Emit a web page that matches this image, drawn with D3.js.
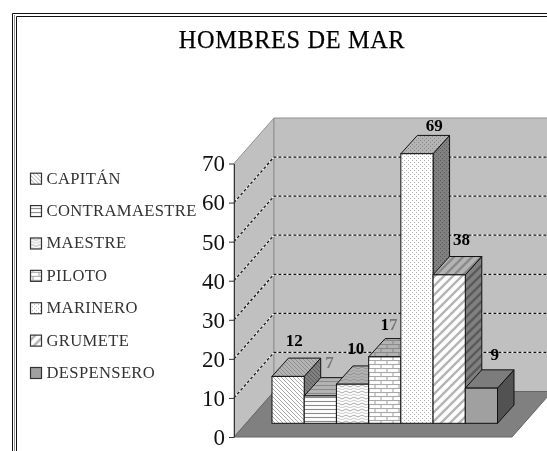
<!DOCTYPE html>
<html><head><meta charset="utf-8">
<script src="https://cdn.jsdelivr.net/npm/d3@7"></script>
<style>html,body{margin:0;padding:0;background:#fff}svg{display:block;filter:blur(.4px)}text{font-family:"Liberation Serif",serif}</style>
</head><body><div id="chart"></div>
<script>
const categories=["CAPITÁN","CONTRAMAESTRE","MAESTRE","PILOTO","MARINERO","GRUMETE","DESPENSERO"];
const values=[12,7,10,17,69,38,9];
const yTicks=[0,10,20,30,40,50,60,70];
const patternNames=["diag","hlines","waves","bricks","dots","wide","solid"];
const labelNudgeX=[-2,1,-5,-4,9,4,5];
const labelNudgeY=[-12,-10,-12,-9,-4,-12,-10];

const W=547,H=451;
const svg=d3.select("#chart").append("svg").attr("width",W).attr("height",H);
const defs=svg.append("defs");
const dx=40,dy=45.5,bdx=16.5,bdy=18.3;
const y=d3.scaleLinear().domain([0,70]).range([437,163.5]);
const hFront=v=>y(0)-y(v);
const baseY=423.3;
const x=d3.scaleBand().domain(categories).range([272,497.5]).padding(0);

function addPattern(name,shade,bg,fg){
  const id=`${name}-${shade}`;
  const p=defs.append("pattern").attr("id",id).attr("patternUnits","userSpaceOnUse");
  const sz={diag:[4,4],hlines:[4,4],waves:[8,6],bricks:[12,8],dots:[4,4],wide:[9,9]}[name];
  p.attr("width",sz[0]).attr("height",sz[1]);
  p.append("rect").attr("width",sz[0]).attr("height",sz[1]).attr("fill",bg);
  const L=(a,b,c,d,w=1)=>p.append("line").attr("x1",a).attr("y1",b).attr("x2",c).attr("y2",d).attr("stroke",fg).attr("stroke-width",w);
  if(name==="diag"){L(0,0,4,4,.9);L(-1,3,1,5,.9);L(3,-1,5,1,.9);}
  if(name==="hlines"){L(0,1.5,4,1.5,1.1);}
  if(name==="waves"){p.append("path").attr("d","M0 2 Q2 0 4 2 T8 2").attr("fill","none").attr("stroke",fg).attr("stroke-width",.9);p.append("path").attr("d","M0 5 Q2 3 4 5 T8 5").attr("fill","none").attr("stroke",fg).attr("stroke-width",.6);}
  if(name==="bricks"){L(0,.5,12,.5,1.1);L(0,4.5,12,4.5,1.1);L(3,0,3,4,1.1);L(9,4,9,8,1.1);}
  if(name==="dots"){p.append("rect").attr("x",0).attr("y",0).attr("width",1).attr("height",1).attr("fill",fg);p.append("rect").attr("x",2).attr("y",2).attr("width",1).attr("height",1).attr("fill",fg);}
  if(name==="wide"){p.append("path").attr("d","M-2 11 L11 -2 M-2 2 L2 -2 M7 11 L11 7").attr("stroke",fg).attr("stroke-width",2.4).attr("fill","none");}
  return `url(#${id})`;
}
const fgFront={diag:"#a0a0a0",hlines:"#8a8a8a",waves:"#a0a0a0",bricks:"#a8a8a8",dots:"#b0b0b0",wide:"#b4b4b4"};
const fills={};
patternNames.forEach(n=>{
  if(n==="solid"){fills[n]={front:"#a0a0a0",top:"#7c7c7c",side:"#525252"};return;}
  fills[n]={front:addPattern(n,"f","#ffffff",fgFront[n]),
            top:addPattern(n,"t","#b4b4b4","#8a8a8a"),
            side:addPattern(n,"s","#808080","#5a5a5a")};
});

// frame
const frame=svg.append("g");
frame.append("path").attr("d","M12.5 451V13.5H547").attr("fill","none").attr("stroke","#111");
frame.append("path").attr("d","M14.5 451V15").attr("fill","none").attr("stroke","#999");
frame.append("path").attr("d","M16.5 451V16.5H547").attr("fill","none").attr("stroke","#111");

svg.append("text").attr("x",292).attr("y",47.5).attr("text-anchor","middle").attr("font-size",24.3).attr("letter-spacing",".65").attr("fill","#000").attr("stroke","#000").attr("stroke-width",.25).text("HOMBRES DE MAR");

// walls
const xL=234,xR=512;
const plot=svg.append("g");
plot.append("polygon").attr("points",`${xL},${y(0)} ${xL+dx},${y(0)-dy} ${xL+dx},${y(70)-dy} ${xL},${y(70)}`).attr("fill","#c0c0c0").attr("stroke","#909090");
plot.append("polygon").attr("points",`${xL+dx},${y(0)-dy} ${xR+dx},${y(0)-dy} ${xR+dx},${y(70)-dy} ${xL+dx},${y(70)-dy}`).attr("fill","#c0c0c0").attr("stroke","#909090");
plot.append("polygon").attr("points",`${xL},${y(0)} ${xR},${y(0)} ${xR+dx},${y(0)-dy} ${xL+dx},${y(0)-dy}`).attr("fill","#808080").attr("stroke","#666");

// gridlines
const grid=plot.append("g");
yTicks.filter(t=>t>0&&t<70).forEach(t=>{
  const d=`M${xL} ${y(t)}L${xL+dx} ${y(t)-dy}L${xR+dx} ${y(t)-dy}`;
  grid.append("path").attr("d",d).attr("fill","none").attr("stroke","#fff").attr("stroke-width",1.2);
  grid.append("path").attr("d",d).attr("fill","none").attr("stroke","#111").attr("stroke-width",1.2).attr("stroke-dasharray","3 2");
});

// axis
const axisG=svg.append("g").attr("transform",`translate(${xL},0)`)
  .call(d3.axisLeft(y).tickValues(yTicks).tickSize(5).tickPadding(4).tickSizeOuter(0));
axisG.select(".domain").attr("stroke","#333");
axisG.selectAll(".tick line").attr("stroke","#333");
axisG.selectAll("text").attr("font-size",23).attr("fill","#111");

// bars
const bars=svg.append("g").selectAll("g").data(categories).join("g");
bars.each(function(c,i){
  const g=d3.select(this),x0=x(c),w=x.bandwidth(),v=values[i],yT=baseY-hFront(v),f=fills[patternNames[i]];
  g.append("polygon").attr("points",`${x0+w},${baseY} ${x0+w+bdx},${baseY-bdy} ${x0+w+bdx},${yT-bdy} ${x0+w},${yT}`).attr("fill",f.side).attr("stroke","#111");
  g.append("polygon").attr("points",`${x0},${yT} ${x0+bdx},${yT-bdy} ${x0+w+bdx},${yT-bdy} ${x0+w},${yT}`).attr("fill",f.top).attr("stroke","#111");
  g.append("rect").attr("x",x0).attr("y",yT).attr("width",w).attr("height",baseY-yT).attr("fill",f.front).attr("stroke","#111");
});
// value labels
svg.append("g").selectAll("text").data(values).join("text")
  .attr("x",(d,i)=>x(categories[i])+x.bandwidth()/2+bdx/2+labelNudgeX[i])
  .attr("y",(d,i)=>baseY-hFront(d)-bdy+labelNudgeY[i])
  .attr("text-anchor","middle").attr("font-size",17).attr("font-weight","bold").attr("fill","#000")
  .each(function(d){
    const t=d3.select(this);
    String(d).split("").forEach(ch=>t.append("tspan").attr("fill",ch==="7"?"#777":"#000").text(ch));
  });

// legend
const ly=d3.scalePoint().domain(categories).range([178.7,373]);
const leg=svg.append("g").selectAll("g").data(categories).join("g").attr("transform",c=>`translate(30,${ly(c)})`);
leg.append("rect").attr("x",.5).attr("y",-5.5).attr("width",11).attr("height",11).attr("stroke","#333").attr("stroke-width",1.2)
  .attr("fill",(c,i)=>fills[patternNames[i]].front);
leg.append("text").attr("x",16.5).attr("y",5).attr("font-size",16.6).attr("letter-spacing",".35").attr("fill","#333").text(c=>c);
</script></body></html>
